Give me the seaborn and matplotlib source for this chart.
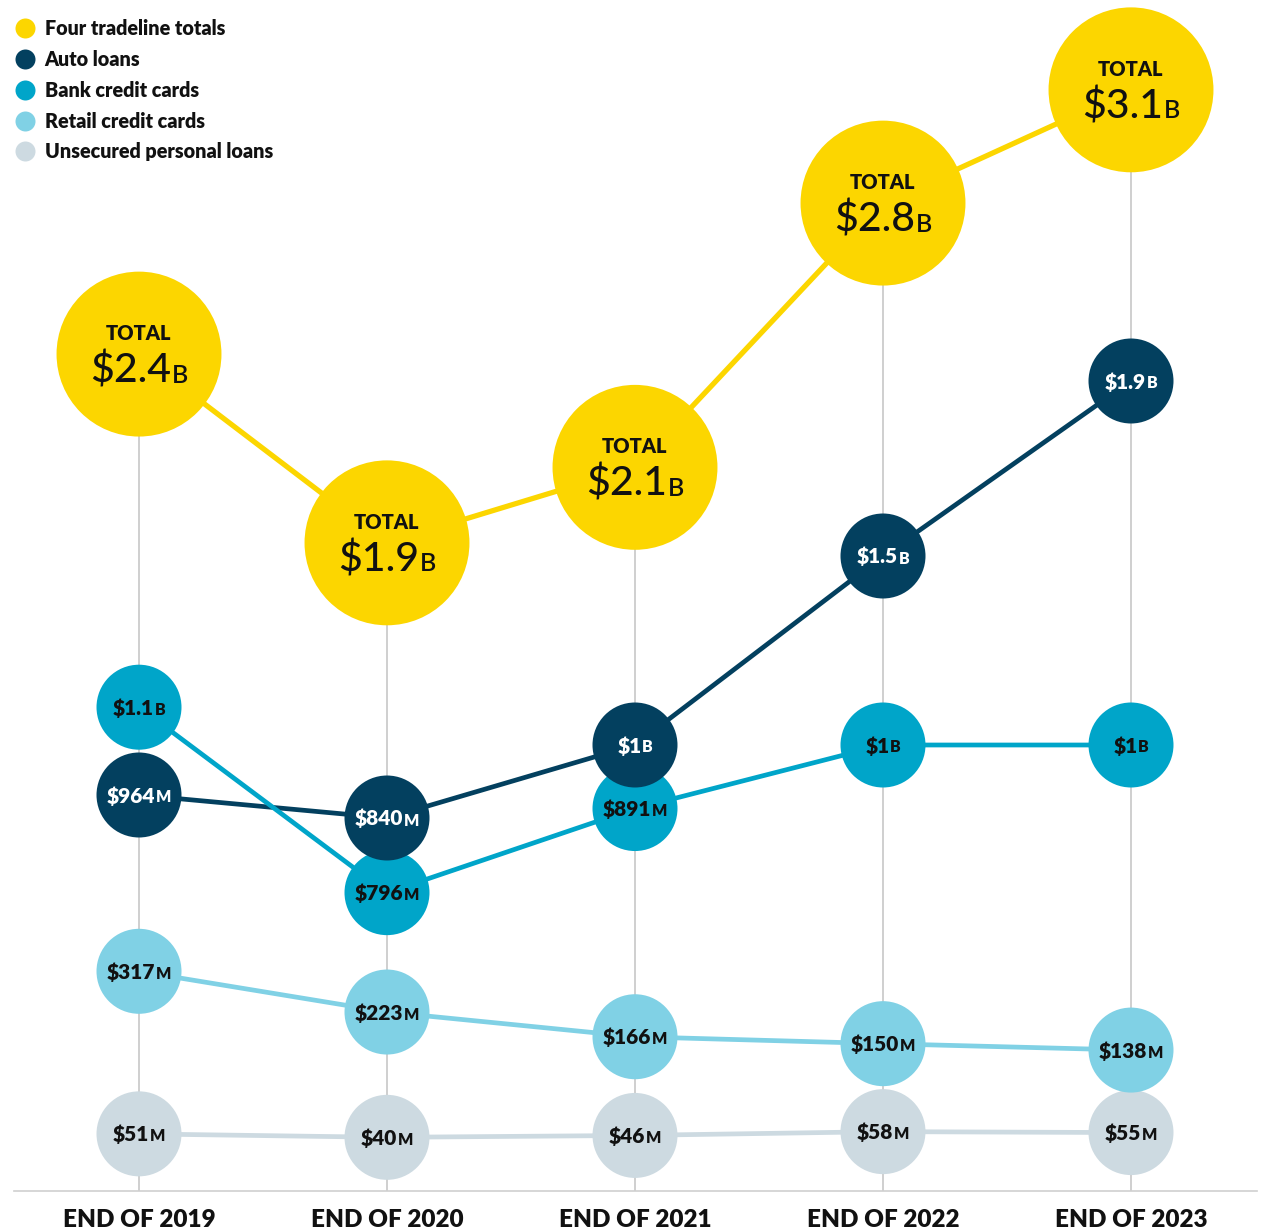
import numpy as np
import pandas as pd
import matplotlib
matplotlib.use("Agg")
import matplotlib.pyplot as plt
from matplotlib.font_manager import FontProperties
from matplotlib.textpath import TextToPath
from matplotlib.lines import Line2D
import seaborn as sns

# ---- data ($M for tradelines, $B for totals) ----
years = ["END OF 2019", "END OF 2020", "END OF 2021", "END OF 2022", "END OF 2023"]
totals_b = [2.4, 1.9, 2.1, 2.8, 3.1]
auto_loans = [964, 840, 1000, 1500, 1900]
bank_cards = [1100, 796, 891, 1000, 1000]
retail_cards = [317, 223, 166, 150, 138]
personal_loans = [51, 40, 46, 58, 55]

series_names = ["Four tradeline totals", "Auto loans", "Bank credit cards",
                "Retail credit cards", "Unsecured personal loans"]
colors = {
    "Four tradeline totals": "#FCD600",
    "Auto loans": "#03405F",
    "Bank credit cards": "#00A5C9",
    "Retail credit cards": "#80D1E5",
    "Unsecured personal loans": "#CDDAE1",
}
text_colors = {
    "Auto loans": "white",
    "Bank credit cards": "#111111",
    "Retail credit cards": "#111111",
    "Unsecured personal loans": "#111111",
}

sns.set_theme(style="white")
plt.rcParams["font.family"] = ["Lato", "DejaVu Sans"]

W, H = 1264, 1232
fig = plt.figure(figsize=(W / 100, H / 100), dpi=100)
base_px = 1191  # baseline of the plotting area, from top
ax = fig.add_axes([0, (H - base_px) / H, 1, base_px / H])
ax2 = ax.twinx()
ax.set_zorder(ax2.get_zorder() + 1)
ax.patch.set_visible(False)

# x positions: one column per year
xpos = np.arange(len(years))
step_px = 248
x0_px = 139
ax.set_xlim(-x0_px / step_px, (W - x0_px) / step_px)

# compressed value scale for the tradeline series (value in $M -> height)
kv = np.array([-50, 0, 60, 140, 320, 800, 840, 964, 1000, 1500, 1900, 2840], dtype=float)
ky = np.array([1191, 1150, 1131, 1048, 970, 892, 818, 795, 745, 556, 381, 0], dtype=float)


def fwd(v):
    return -np.interp(np.asarray(v, dtype=float), kv, ky)


def inv(t):
    return np.interp(-np.asarray(t, dtype=float), ky[::-1], kv[::-1])


ax.set_yscale("function", functions=(fwd, inv))
ax.set_ylim(-50, 2840)

# linear scale for the totals ($B)
ax2.set_ylim(0.183, 3.338)

# ---- long-form table for the tradelines ----
rows = []
for name, vals in [("Unsecured personal loans", personal_loans),
                   ("Retail credit cards", retail_cards),
                   ("Auto loans", auto_loans),
                   ("Bank credit cards", bank_cards)]:
    for x, v in zip(xpos, vals):
        rows.append({"series": name, "x": x, "value": v})
df = pd.DataFrame(rows)
tot = pd.DataFrame({"x": xpos, "value": totals_b})

# grey guide lines from the baseline up to each total
ax2.vlines(xpos, ax2.get_ylim()[0], totals_b, color="#CFCFCF", lw=1.4, zorder=1)

# totals
sns.lineplot(data=tot, x="x", y="value", color=colors["Four tradeline totals"],
             lw=3.8, ax=ax2, zorder=2, legend=False)
sns.scatterplot(data=tot, x="x", y="value", color=colors["Four tradeline totals"],
                s=14100, edgecolor="none", linewidth=0, ax=ax2, zorder=3, legend=False)

# tradeline lines (bank line sits above the auto line)
for i, name in enumerate(["Unsecured personal loans", "Retail credit cards",
                          "Auto loans", "Bank credit cards"]):
    sub = df[df.series == name]
    sns.lineplot(data=sub, x="x", y="value", color=colors[name], lw=3.4,
                 ax=ax, zorder=2 + i * 0.1, legend=False)

# tradeline circles (auto loans on top)
for i, name in enumerate(["Unsecured personal loans", "Retail credit cards",
                          "Bank credit cards", "Auto loans"]):
    sub = df[df.series == name]
    sns.scatterplot(data=sub, x="x", y="value", color=colors[name], s=3745,
                    edgecolor="none", linewidth=0, ax=ax, zorder=3 + i * 0.1,
                    legend=False)

# ---- value labels ----
ttp = TextToPath()


def width_pt(s, fp):
    w, h, d = ttp.get_text_width_height_descent(s, fp, ismath=False)
    return w


def split_m(v):
    if v >= 1000:
        return f"${v / 1000:g}", "B"
    return f"${v:g}", "M"


def put_value(axis, x, y, main, suffix, fp_main, fp_suf, color, dy, z, gap=0.6):
    wm = width_pt(main, fp_main)
    ws = width_pt(suffix, fp_suf)
    start = -(wm + gap + ws) / 2
    axis.annotate(main, (x, y), xytext=(start, dy), textcoords="offset points",
                  ha="left", va="baseline", fontproperties=fp_main, color=color,
                  zorder=z, annotation_clip=False)
    axis.annotate(suffix, (x, y), xytext=(start + wm + gap, dy),
                  textcoords="offset points", ha="left", va="baseline",
                  fontproperties=fp_suf, color=color, zorder=z,
                  annotation_clip=False)


fp_small = FontProperties(family="Lato", size=15, weight="heavy")
fp_small_suf = FontProperties(family="Lato", size=11.5, weight="heavy")
for name in ["Unsecured personal loans", "Retail credit cards",
             "Bank credit cards", "Auto loans"]:
    sub = df[df.series == name]
    for x, v in zip(sub.x, sub.value):
        main, suf = split_m(v)
        put_value(ax, x, v, main, suf, fp_small, fp_small_suf,
                  text_colors[name], -5.4, 10)

fp_total = FontProperties(family="Lato", size=14.5, weight="heavy")
fp_big = FontProperties(family="Lato", size=29.5, weight="medium")
fp_big_suf = FontProperties(family="Lato", size=18, weight="semibold")
for x, v in zip(xpos, totals_b):
    ax2.annotate("TOTAL", (x, v), xytext=(0, 10), textcoords="offset points",
                 ha="center", va="baseline", fontproperties=fp_total,
                 color="#111111", zorder=10, annotation_clip=False)
    put_value(ax2, x, v, f"${v:g}", "B", fp_big, fp_big_suf, "#111111", -20.5, 10,
              gap=1.0)

# ---- axes styling ----
for a in (ax, ax2):
    a.set_yticks([])
    a.set_ylabel("")
    a.set_xlabel("")
    for sp in a.spines.values():
        sp.set_visible(False)

ax.spines["bottom"].set_visible(True)
ax.spines["bottom"].set_color("#CFCFCF")
ax.spines["bottom"].set_linewidth(1.2)
ax.spines["bottom"].set_bounds(-125 / step_px, (1257 - x0_px) / step_px)
ax.set_xticks(xpos)
ax.set_xticklabels(years, fontsize=17.5, fontweight="heavy", color="#111111")
ax.tick_params(axis="x", length=0, pad=13)

# ---- legend ----
handles = [Line2D([0], [0], marker="o", linestyle="none", markersize=14.4,
                  markerfacecolor=colors[n], markeredgewidth=0) for n in series_names]
leg = ax.legend(handles, series_names, loc="upper left",
                bbox_to_anchor=(15 / W, 1 - 19 / H), bbox_transform=fig.transFigure,
                frameon=False, borderpad=0, borderaxespad=0, handlelength=1.0,
                handletextpad=0.5, labelspacing=0.6,
                prop=FontProperties(family="Lato", size=14.2, weight="heavy"))
for t in leg.get_texts():
    t.set_color("#111111")

fig.savefig("out.png", dpi=100, facecolor="white")
